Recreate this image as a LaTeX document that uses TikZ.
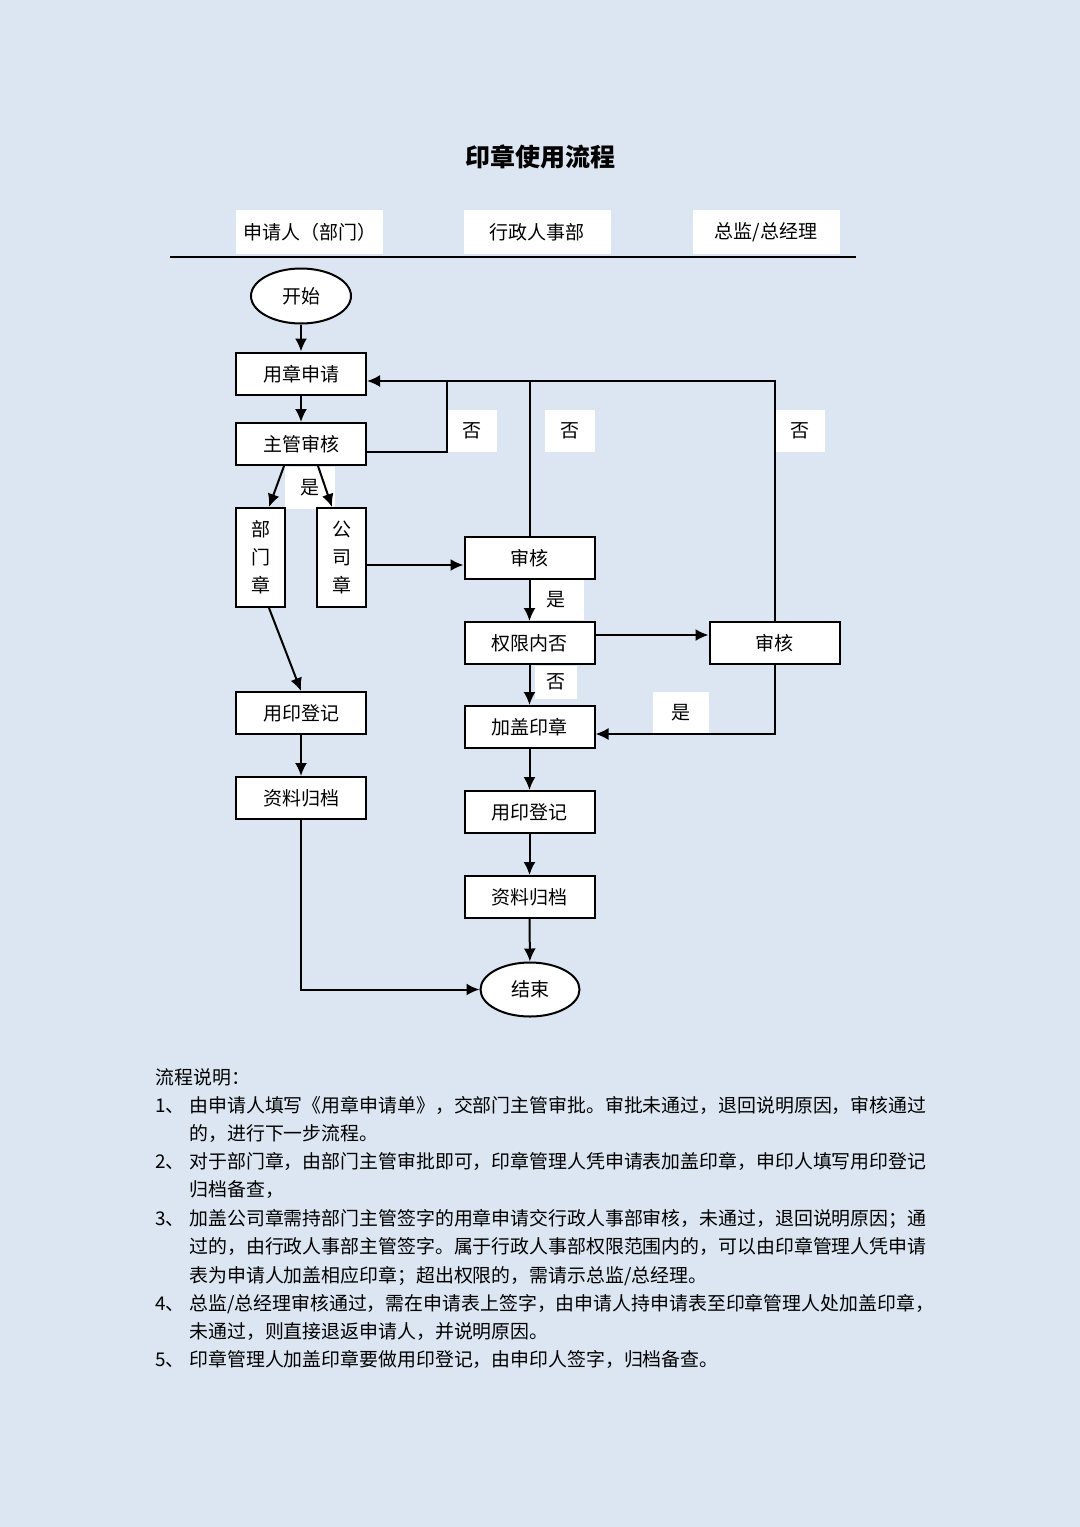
\documentclass[tikz,border=0pt]{standalone}
\usepackage{fontspec}
\setmainfont{Noto Sans CJK SC}
\usetikzlibrary{arrows.meta,shapes.geometric}
\definecolor{pagebg}{RGB}{220,230,242}
\newcommand\boxfont{\fontsize{9.5pt}{14pt}\selectfont}
\newcommand\notefont{\fontsize{9.45pt}{12pt}\selectfont}
\newcommand\titlefont{\fontsize{12.5pt}{15pt}\selectfont\bfseries}
\tikzset{
  procbox/.style={draw, line width=1pt, fill=white, minimum width=65pt,
    minimum height=21pt, inner sep=0pt, font=\boxfont,
    text height=0.88em, text depth=0.12em},
  sealbox/.style={draw, line width=1pt, fill=white, minimum width=24.5pt,
    minimum height=49.5pt, inner sep=0pt, font=\boxfont, align=center},
  terminal/.style={draw, ellipse, line width=1pt, fill=white,
    minimum width=50pt, minimum height=27.5pt, inner sep=0pt, font=\boxfont},
  lanehead/.style={fill=white, minimum width=73.5pt, minimum height=22pt,
    inner sep=0pt, font=\boxfont},
  answer/.style={fill=white, minimum width=25pt, minimum height=21pt,
    inner sep=0pt, font=\boxfont},
  flow/.style={line width=1pt, -{Latex[length=6.5pt,width=6pt]}},
  link/.style={line width=1pt},
  note/.style={anchor=west, inner sep=0pt, font=\notefont,
    text height=0.88em, text depth=0.12em},
}
\begin{document}
\begin{tikzpicture}[x=0.5pt, y=-0.5pt]
  % page
  \fill[pagebg] (0,0) rectangle (1080,1527);
  \useasboundingbox (0,0) rectangle (1080,1527);
  \node[font=\titlefont] (title) at (540,157) {印章使用流程};

  % lanes
  \node[lanehead] (lane1) at (309.5,232) {申请人（部门）};
  \node[lanehead] (lane2) at (537,232) {行政人事部};
  \node[lanehead] (lane3) at (766,232) {总监/总经理};
  \draw[link] (170,257) -- (856,257);

  % answer labels (under the lines)
  \node[answer] (yes1) at (310,487.5) {是};
  \node[answer] (no1) at (472,430.5) {否};
  \node[answer] (no2) at (570,430.5) {否};
  \node[answer] (no3) at (799.5,430.5) {否};
  \node[answer, minimum width=27.5pt, minimum height=20pt] (yes2) at (556,600) {是};
  \node[answer, minimum width=21pt, minimum height=16.5pt] (no4) at (556,682) {否};
  \node[answer, minimum width=28pt, minimum height=20.5pt] (yes3) at (681,712.5) {是};

  % applicant
  \node[terminal] (start) at (301,296) {开始};
  \node[procbox] (apply) at (301,373.5) {用章申请};
  \node[procbox] (mgr) at (301,444) {主管审核};
  \node[sealbox] (dept) at (260.5,557.5) {部\\门\\章};
  \node[sealbox] (corp) at (341.5,557.5) {公\\司\\章};
  \node[procbox] (reg1) at (301,713) {用印登记};
  \node[procbox] (arch1) at (301,798) {资料归档};

  % admin
  \node[procbox] (rev1) at (529.5,558) {审核};
  \node[procbox] (scope) at (529.5,643) {权限内否};
  \node[procbox] (stamp) at (529.5,727) {加盖印章};
  \node[procbox] (reg2) at (529.5,812) {用印登记};
  \node[procbox] (arch2) at (529.5,897) {资料归档};
  \node[terminal, minimum width=49.5pt, minimum height=27pt] (end) at (530,989.5) {结束};

  % director
  \node[procbox] (rev2) at (774.5,643) {审核};

  % connectors
  \coordinate (joinA) at (447,381);
  \draw[flow] (start) -- (apply);
  \draw[flow] (apply) -- (mgr);
  \draw[flow] ([xshift=-8.5pt]mgr.south) -- ([xshift=4.25pt]dept.north);
  \draw[flow] ([xshift=8.5pt]mgr.south) -- ([xshift=-4.75pt]corp.north);
  \draw[link] ([yshift=-4pt]mgr.east) -| (joinA);
  \draw[flow] (rev2.north) |- ([yshift=-3.75pt]apply.east);
  \draw[link] (rev1.north) -- (rev1.north |- joinA);
  \draw[flow] ([yshift=-3.75pt]corp.east) -- ([yshift=-3.75pt]corp.east -| rev1.west);
  \draw[flow] (rev1) -- (scope);
  \draw[flow] ([yshift=4pt]scope.east) -- ([yshift=4pt]rev2.west);
  \draw[flow] (scope) -- (stamp);
  \draw[flow] (rev2.south) |- ([yshift=-3.5pt]stamp.east);
  \draw[flow] (stamp) -- (reg2);
  \draw[flow] (reg2) -- (arch2);
  \draw[flow] (arch2) -- (end);
  \draw[flow] ([xshift=4.25pt]dept.south) -- (reg1.north);
  \draw[flow] (reg1) -- (arch1);
  \draw[flow] (arch1.south) |- (end.west);

  % notes
  \node[note] (head) at (155,1077) {流程说明：};
  \node[note] (k1) at (155,1105) {1、};
  \node[note] (t1a) at (189,1105) {由申请人填写《用章申请单》，交部门主管审批。审批未通过，退回说明原因，审核通过};
  \node[note] (t1b) at (189,1133) {的，进行下一步流程。};
  \node[note] (k2) at (155,1161) {2、};
  \node[note] (t2a) at (189,1161) {对于部门章，由部门主管审批即可，印章管理人凭申请表加盖印章，申印人填写用印登记};
  \node[note] (t2b) at (189,1189) {归档备查，};
  \node[note] (k3) at (155,1218) {3、};
  \node[note] (t3a) at (189,1218) {加盖公司章需持部门主管签字的用章申请交行政人事部审核，未通过，退回说明原因；通};
  \node[note] (t3b) at (189,1246) {过的，由行政人事部主管签字。属于行政人事部权限范围内的，可以由印章管理人凭申请};
  \node[note] (t3c) at (189,1275) {表为申请人加盖相应印章；超出权限的，需请示总监/总经理。};
  \node[note] (k4) at (155,1303) {4、};
  \node[note] (t4a) at (189,1303) {总监/总经理审核通过，需在申请表上签字，由申请人持申请表至印章管理人处加盖印章，};
  \node[note] (t4b) at (189,1331) {未通过，则直接退返申请人，并说明原因。};
  \node[note] (k5) at (155,1359) {5、};
  \node[note] (t5a) at (189,1359) {印章管理人加盖印章要做用印登记，由申印人签字，归档备查。};
\end{tikzpicture}
\end{document}
